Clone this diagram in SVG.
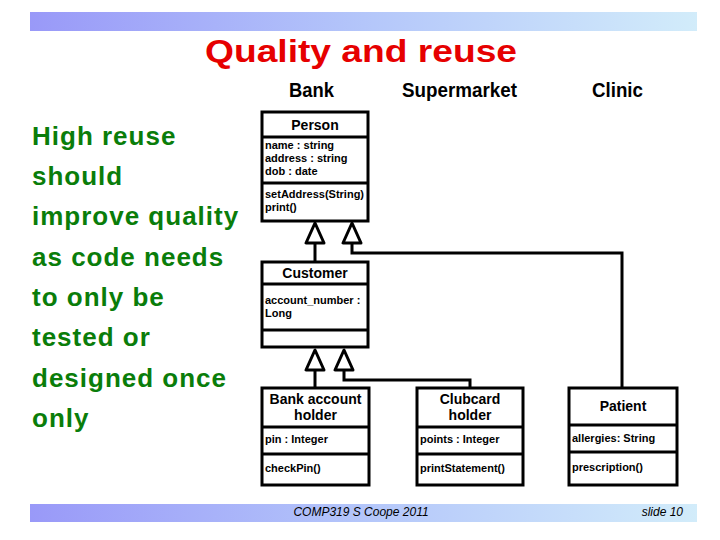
<svg xmlns="http://www.w3.org/2000/svg" width="720" height="540" viewBox="0 0 720 540">
<defs>
<linearGradient id="bar" x1="0" y1="0" x2="1" y2="0">
<stop offset="0" stop-color="#9999f8"/>
<stop offset="0.5" stop-color="#b4c6fa"/>
<stop offset="1" stop-color="#d2ecfa"/>
</linearGradient>
<style>
.box{fill:#fff;stroke:#000;stroke-width:3}
.div{stroke:#000;stroke-width:3}
.hd{font-family:"Liberation Sans",Arial,sans-serif;font-weight:bold;font-size:14px;text-anchor:middle;fill:#000}
.at{font-family:"Liberation Sans",Arial,sans-serif;font-weight:bold;font-size:11px;fill:#000}
.col{font-family:"Liberation Sans",Arial,sans-serif;font-weight:bold;font-size:21px;fill:#000}
.body{font-family:"Liberation Sans",Arial,sans-serif;font-weight:bold;font-size:26px;letter-spacing:1px;fill:#0a7d0a}
.foot{font-family:"Liberation Sans",Arial,sans-serif;font-style:italic;font-size:12px;fill:#000}
.conn{fill:none;stroke:#000;stroke-width:3}
.tri{fill:#fff;stroke:#000;stroke-width:3;stroke-linejoin:round}
</style>
</defs>
<rect width="720" height="540" fill="#fff"/>
<rect x="30" y="12" width="667" height="19" fill="url(#bar)"/>
<rect x="30" y="504" width="667" height="18" fill="url(#bar)"/>
<text x="205" y="62" font-family="'Liberation Sans',Arial,sans-serif" font-weight="bold" font-size="31" fill="#e60000" textLength="312" lengthAdjust="spacingAndGlyphs">Quality and reuse</text>
<g id="bodytext">
<text class="body" x="32" y="145">High reuse</text>
<text class="body" x="32" y="185">should</text>
<text class="body" x="32" y="225">improve quality</text>
<text class="body" x="32" y="266">as code needs</text>
<text class="body" x="32" y="306">to only be</text>
<text class="body" x="32" y="346">tested or</text>
<text class="body" x="32" y="387">designed once</text>
<text class="body" x="32" y="427">only</text>
</g>
<g id="columns">
<text class="col" x="289" y="97" textLength="45" lengthAdjust="spacingAndGlyphs">Bank</text>
<text class="col" x="402" y="97" textLength="115" lengthAdjust="spacingAndGlyphs">Supermarket</text>
<text class="col" x="592" y="97" textLength="51" lengthAdjust="spacingAndGlyphs">Clinic</text>
</g>
<g id="connectors">
<path class="conn" d="M315 243 V262"/>
<path class="conn" d="M352 243 V253 H622 V388"/>
<path class="conn" d="M315 370 V388"/>
<path class="conn" d="M344 370 V380 H470 V388"/>
<polygon class="tri" points="315,223 306,243 324,243"/>
<polygon class="tri" points="352,223 343,243 361,243"/>
<polygon class="tri" points="315,350 306,370 324,370"/>
<polygon class="tri" points="344,350 335,370 353,370"/>
</g>
<g id="person">
<rect class="box" x="262" y="112" width="106" height="109"/>
<line class="div" x1="262" y1="137" x2="368" y2="137"/>
<line class="div" x1="262" y1="183" x2="368" y2="183"/>
<text class="hd" x="315" y="130">Person</text>
<text class="at" x="265" y="149">name : string</text>
<text class="at" x="265" y="162">address : string</text>
<text class="at" x="265" y="175">dob : date</text>
<text class="at" x="265" y="198">setAddress(String)</text>
<text class="at" x="265" y="211">print()</text>
</g>
<g id="customer">
<rect class="box" x="262" y="262" width="106" height="85"/>
<line class="div" x1="262" y1="284" x2="368" y2="284"/>
<line class="div" x1="262" y1="330" x2="368" y2="330"/>
<text class="hd" x="315" y="278">Customer</text>
<text class="at" x="265" y="304">account_number :</text>
<text class="at" x="265" y="317">Long</text>
</g>
<g id="bankaccountholder">
<rect class="box" x="262" y="388" width="107" height="97"/>
<line class="div" x1="262" y1="427" x2="369" y2="427"/>
<line class="div" x1="262" y1="454" x2="369" y2="454"/>
<text class="hd" x="315.5" y="404">Bank account</text>
<text class="hd" x="315.5" y="420">holder</text>
<text class="at" x="265" y="443">pin : Integer</text>
<text class="at" x="265" y="472">checkPin()</text>
</g>
<g id="clubcardholder">
<rect class="box" x="417" y="388" width="106" height="97"/>
<line class="div" x1="417" y1="427" x2="523" y2="427"/>
<line class="div" x1="417" y1="454" x2="523" y2="454"/>
<text class="hd" x="470" y="404">Clubcard</text>
<text class="hd" x="470" y="420">holder</text>
<text class="at" x="420" y="443">points : Integer</text>
<text class="at" x="420" y="472">printStatement()</text>
</g>
<g id="patient">
<rect class="box" x="569" y="388" width="108" height="97"/>
<line class="div" x1="569" y1="425" x2="677" y2="425"/>
<line class="div" x1="569" y1="452" x2="677" y2="452"/>
<text class="hd" x="623" y="411">Patient</text>
<text class="at" x="572" y="442">allergies: String</text>
<text class="at" x="572" y="471">prescription()</text>
</g>
<g id="footer">
<text class="foot" x="361" y="516" text-anchor="middle">COMP319 S Coope 2011</text>
<text class="foot" x="683" y="516" text-anchor="end">slide 10</text>
</g>
</svg>
